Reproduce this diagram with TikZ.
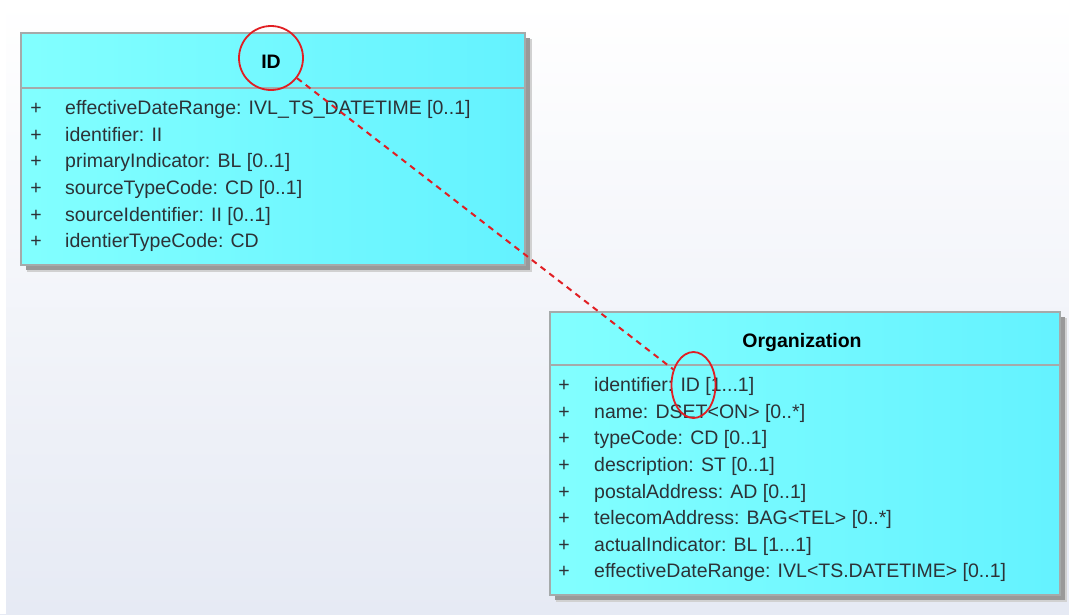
\documentclass[tikz,border=0pt]{standalone}
\usepackage{fontspec}
\setmainfont{Liberation Sans}
\usetikzlibrary{shapes.geometric}
\definecolor{bgbot}{RGB}{230,234,244}
\definecolor{cyanL}{RGB}{130,255,255}
\definecolor{cyanR}{RGB}{100,242,255}
\definecolor{boxline}{RGB}{165,170,170}
\definecolor{attrtext}{RGB}{45,50,55}
\definecolor{markred}{RGB}{225,30,35}
\tikzset{
  umlbox/.style={draw=boxline, line width=1.6pt, left color=cyanL, right color=cyanR},
  shadowbox/.style={fill=black!40, draw=none},
  shadowsoft/.style={fill=black!18, draw=none},
  divider/.style={draw=boxline, line width=1.6pt},
  titletext/.style={font=\fontsize{19.5}{23}\selectfont\bfseries, text=black, inner sep=0pt},
  attr/.style={font=\fontsize{19.5}{23}\selectfont, text=attrtext, anchor=mid west, inner sep=0pt},
  plus/.style={font=\fontsize{19.5}{23}\selectfont, text=attrtext, anchor=mid, inner sep=0pt},
  redmark/.style={draw=markred, line width=1.8pt, inner sep=0pt},
  link/.style={draw=markred, line width=2pt, dash pattern=on 6pt off 5pt}
}
\begin{document}
\begin{tikzpicture}[x=1pt,y=-1pt]
\useasboundingbox (0,0) rectangle (1069,614);
% background
\shade[top color=white, bottom color=bgbot] (0,0) rectangle (1069,614);
\fill[white] (0,0) rectangle (6,614);
% ---- ID box ----
\fill[shadowsoft] (27,39) rectangle (532,272);
\fill[shadowbox] (26,38) rectangle (530,270);
\path[umlbox] (21,33) rectangle (525,265);
\draw[divider] (21,88) -- (525,88);
\node[titletext] (idtitle) at (271,62) {ID};
\foreach \y/\t [count=\i] in {112/{effectiveDateRange: IVL\_TS\_DATETIME [0..1]},
  138.6/{identifier: II},
  165.2/{primaryIndicator: BL [0..1]},
  191.8/{sourceTypeCode: CD [0..1]},
  218.4/{sourceIdentifier: II [0..1]},
  245/{identierTypeCode: CD}}{
  \node[plus] (idp\i) at (36,\y) {+};
  \node[attr] (ida\i) at (65,\y) {\t};
}
% ---- Organization box ----
\fill[shadowsoft] (556,318) rectangle (1067,602);
\fill[shadowbox] (555,317) rectangle (1065,600);
\path[umlbox] (550,312) rectangle (1060,595);
\draw[divider] (550,365) -- (1060,365);
\node[titletext] (orgtitle) at (802,342) {Organization};
\foreach \y/\t [count=\i] in {389/{identifier: ID [1...1]},
  415.6/{name: DSET<ON> [0..*]},
  442.2/{typeCode: CD [0..1]},
  468.8/{description: ST [0..1]},
  495.4/{postalAddress: AD [0..1]},
  522/{telecomAddress: BAG<TEL> [0..*]},
  548.6/{actualIndicator: BL [1...1]},
  575.2/{effectiveDateRange: IVL<TS.DATETIME> [0..1]}}{
  \node[plus] (orgp\i) at (564,\y) {+};
  \node[attr] (orga\i) at (594,\y) {\t};
}
% ---- markers ----
\node[redmark, circle, minimum size=64pt] (idmark) at (271,58) {};
\node[redmark, ellipse, minimum width=44pt, minimum height=66pt] (orgmark) at (693.5,385) {};
\draw[link] (idmark) -- (orgmark);
\end{tikzpicture}
\end{document}
